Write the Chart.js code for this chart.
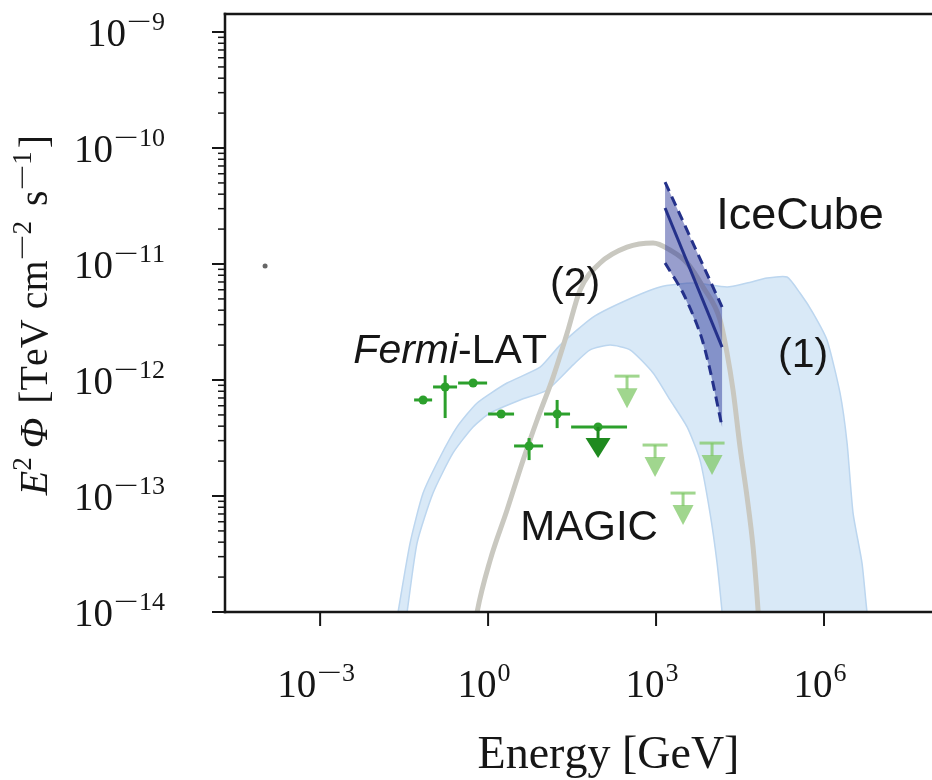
<!DOCTYPE html>
<html>
<head>
<meta charset="utf-8">
<title>E2 Phi vs Energy</title>
<script src="https://cdn.jsdelivr.net/npm/chart.js@4.4.1/dist/chart.umd.min.js"></script>
<style>
  html, body { margin: 0; padding: 0; background: #fff; overflow: hidden; }
  canvas { display: block; }
</style>
</head>
<body>
<canvas id="sed" width="1010" height="780"></canvas>
<script>
// model (1): shaded band, upper and lower edge (GeV, TeV cm^-2 s^-1)
const band1UpperE = [0.0228, 0.0247, 0.0405, 0.069, 0.139, 0.279, 0.637, 2.18, 8.49, 19.3, 75, 303, 1178, 4580, 18530, 42170, 95900, 218000, 372000, 637000, 1.13e6, 1.93e6, 2.58e6, 3.3e6, 4.77e6, 5.86e6, 6.62e6];
const band1UpperF = [7.7e-15, 1.0e-14, 3.94e-14, 1.06e-13, 2.17e-13, 3.94e-13, 6.34e-13, 9.42e-13, 1.29e-12, 2.0e-12, 3.49e-12, 4.9e-12, 6.34e-12, 6.86e-12, 6.34e-12, 6.86e-12, 7.57e-12, 7.73e-12, 5.62e-12, 3.78e-12, 2.21e-12, 7.73e-13, 2.86e-13, 7.13e-14, 2.64e-14, 1.0e-14, 7.7e-15];
const band1LowerE = [0.033, 0.0358, 0.054, 0.104, 0.237, 0.54, 1.09, 3.73, 11.3, 33, 66.3, 151, 343, 884, 1780, 3580, 6100, 9200, 12300, 15100, 15700];
const band1LowerF = [7.7e-15, 1.0e-14, 3.94e-14, 1.06e-13, 2.35e-13, 3.94e-13, 5.2e-13, 6.73e-13, 8.2e-13, 1.35e-12, 1.82e-12, 2.0e-12, 1.82e-12, 1.15e-12, 6.73e-13, 3.94e-13, 2.04e-13, 7.13e-14, 2.64e-14, 1.0e-14, 7.7e-15];

// model (2): grey curve
const model2E = [0.586, 0.637, 1.09, 2.18, 4.22, 7.5, 14.5, 25.8, 44, 100, 303, 884, 1780, 3580, 6900, 13900, 18500, 23700, 31600, 42200, 54000, 66300, 69000];
const model2F = [7.7e-15, 1.0e-14, 2.8e-14, 7.57e-14, 2.04e-13, 4.52e-13, 1.06e-12, 2.54e-12, 5.97e-12, 1.02e-11, 1.40e-11, 1.52e-11, 1.32e-11, 1.02e-11, 6.34e-12, 3.29e-12, 1.71e-12, 8.2e-13, 2.64e-13, 9.8e-14, 3.63e-14, 1.04e-14, 7.7e-15];

// IceCube butterfly
const iceE = [1448, 15100];
const iceBestF = [3.04e-11, 1.92e-12];
const iceHighF = [5.09e-11, 4.26e-12];
const iceLowE = [1448, 3035, 6100, 9200, 15100];
const iceLowF = [1.02e-11, 5.62e-12, 2.54e-12, 1.22e-12, 3.94e-13];

// Fermi-LAT flux points
const fermiE = [0.069, 0.171, 0.54, 1.71, 5.4, 17.1];
const fermiF = [6.73e-13, 8.71e-13, 9.42e-13, 5.09e-13, 2.70e-13, 5.09e-13];
const fermiELo = [0.0477, 0.104, 0.291, 1.0, 2.91, 10.0];
const fermiEHi = [0.1, 0.279, 0.96, 2.91, 9.6, 29.1];
const fermiFLo = [null, 4.70e-13, null, null, 2.04e-13, 3.85e-13];
const fermiFHi = [null, 1.10e-12, null, null, 3.16e-13, 6.73e-13];

// Fermi-LAT upper limit
const fermiUlE = [92];
const fermiUlF = [3.94e-13];
const fermiUlELo = [30.4];
const fermiUlEHi = [303];

// MAGIC upper limits
const magicE = [303, 960, 3035, 10000];
const magicF = [1.08e-12, 2.75e-13, 1.06e-13, 2.86e-13];

// small stray mark on the left
const strayE = [1.04e-4];
const strayF = [9.6e-12];

// axis decades
const xTickExp = [-3, 0, 3, 6];
const yTickExp = [-14, -13, -12, -11, -10, -9];

const SERIF = '"Liberation Serif", "Times New Roman", serif';
const SANS = '"Liberation Sans", Arial, sans-serif';
const GREEN = '#2ca02c';
const GREEN_DARK = '#1f8a1f';
const MAGIC_GREEN = 'rgba(128, 200, 104, 0.75)';
const NAVY = '#24318a';
const INK = '#161616';
const MINUS_STRETCH = 1.7;

const textLabels = [
  {parts: [{t: 'IceCube'}], e: 3.73e5, f: 2.75e-11, size: 45},
  {parts: [{t: '(1)'}], e: 4.22e5, f: 1.74e-12, size: 41},
  {parts: [{t: '(2)'}], e: 35.8, f: 7.13e-12, size: 41},
  {parts: [{t: 'Fermi', it: true}, {t: '-LAT'}], e: 0.21, f: 1.89e-12, size: 41},
  {parts: [{t: 'MAGIC'}], e: 63.6, f: 5.62e-14, size: 42}
];

const pts = (xs, ys) => xs.map((v, i) => ({x: v, y: ys[i]}));

function setFont(ctx, p, size, family) {
  const s = p.sup ? Math.round(size * 0.67) : size;
  ctx.font = (p.it ? 'italic ' : '') + s + 'px ' + family;
}

function richWidth(ctx, parts, size, family) {
  let w = 0;
  for (const p of parts) {
    setFont(ctx, p, size, family);
    for (const ch of p.t) w += ctx.measureText(ch).width * (ch === '−' ? MINUS_STRETCH : 1);
    w += p.gap || 0;
  }
  return w;
}

function drawRich(ctx, parts, x, y, size, family) {
  let cx = x;
  ctx.textAlign = 'left';
  ctx.textBaseline = 'alphabetic';
  for (const p of parts) {
    setFont(ctx, p, size, family);
    const dy = p.sup ? -size * 0.4 : 0;
    for (const ch of p.t) {
      const w = ctx.measureText(ch).width;
      if (ch === '−') {
        ctx.save();
        ctx.translate(cx, y + dy);
        ctx.scale(MINUS_STRETCH, 1);
        ctx.fillText(ch, 0, 0);
        ctx.restore();
        cx += w * MINUS_STRETCH;
      } else {
        ctx.fillText(ch, cx, y + dy);
        cx += w;
      }
    }
    cx += p.gap || 0;
  }
}

function powParts(exp) {
  return [{t: '10', gap: 1}, {t: (exp < 0 ? '−' : '') + Math.abs(exp), sup: true}];
}

function seg(ctx, x1, y1, x2, y2) {
  ctx.beginPath();
  ctx.moveTo(x1, y1);
  ctx.lineTo(x2, y2);
  ctx.stroke();
}

function ulArrow(ctx, px, py, capW, stem, tw, th) {
  if (capW) seg(ctx, px - capW / 2, py, px + capW / 2, py);
  seg(ctx, px, py, px, py + stem + 1);
  ctx.beginPath();
  ctx.moveTo(px - tw / 2, py + stem);
  ctx.lineTo(px + tw / 2, py + stem);
  ctx.lineTo(px, py + stem + th);
  ctx.closePath();
  ctx.fill();
}

const sciAxes = {
  id: 'sciAxes',
  afterDatasetsDraw(chart) {
    const {ctx, chartArea: a, scales: {x, y}} = chart;
    ctx.save();

    // markers: error bars and upper limits
    ctx.save();
    ctx.beginPath();
    ctx.rect(a.left, a.top, a.right - a.left, a.bottom - a.top);
    ctx.clip();
    ctx.lineWidth = 3;
    ctx.strokeStyle = GREEN;
    fermiE.forEach((e, i) => {
      const px = x.getPixelForValue(e), py = y.getPixelForValue(fermiF[i]);
      seg(ctx, x.getPixelForValue(fermiELo[i]), py, x.getPixelForValue(fermiEHi[i]), py);
      if (fermiFLo[i] !== null) seg(ctx, px, y.getPixelForValue(fermiFLo[i]), px, y.getPixelForValue(fermiFHi[i]));
    });
    fermiUlE.forEach((e, i) => {
      const px = x.getPixelForValue(e), py = y.getPixelForValue(fermiUlF[i]);
      ctx.strokeStyle = GREEN;
      seg(ctx, x.getPixelForValue(fermiUlELo[i]), py, x.getPixelForValue(fermiUlEHi[i]), py);
      ctx.strokeStyle = GREEN_DARK;
      ctx.fillStyle = GREEN_DARK;
      ulArrow(ctx, px, py, 0, 11, 25, 20);
    });
    ctx.strokeStyle = MAGIC_GREEN;
    ctx.fillStyle = MAGIC_GREEN;
    magicE.forEach((e, i) => {
      ulArrow(ctx, x.getPixelForValue(e), y.getPixelForValue(magicF[i]), 25, 12, 21, 20);
    });
    ctx.restore();

    // in-plot labels
    ctx.fillStyle = INK;
    textLabels.forEach(l => {
      const w = richWidth(ctx, l.parts, l.size, SANS);
      drawRich(ctx, l.parts, x.getPixelForValue(l.e) - w / 2, y.getPixelForValue(l.f) + l.size * 0.36, l.size, SANS);
    });

    // spines
    ctx.strokeStyle = INK;
    ctx.lineWidth = 2.5;
    ctx.lineCap = 'square';
    seg(ctx, a.left, a.top, a.right, a.top);
    seg(ctx, a.left, a.top, a.left, a.bottom);
    seg(ctx, a.left, a.bottom, a.right, a.bottom);
    seg(ctx, a.right, a.top, a.right, a.bottom);
    ctx.lineCap = 'butt';

    // y ticks
    const yMin = y.min, yMax = y.max;
    ctx.lineWidth = 2;
    yTickExp.forEach(p => {
      const py = y.getPixelForValue(Math.pow(10, p));
      seg(ctx, a.left - 13, py, a.left, py);
      ctx.lineWidth = 1.5;
      for (let k = 2; k <= 9; k++) {
        const v = k * Math.pow(10, p);
        if (v > yMin && v < yMax) {
          const pm = y.getPixelForValue(v);
          seg(ctx, a.left - 7, pm, a.left, pm);
        }
      }
      ctx.lineWidth = 2;
    });
    // x ticks
    xTickExp.forEach(p => {
      const px = x.getPixelForValue(Math.pow(10, p));
      seg(ctx, px, a.bottom, px, a.bottom + 14);
    });

    // tick labels
    ctx.fillStyle = INK;
    const TS = 39;
    yTickExp.forEach(p => {
      const parts = powParts(p);
      const w = richWidth(ctx, parts, TS, SERIF);
      drawRich(ctx, parts, a.left - 60 - w, y.getPixelForValue(Math.pow(10, p)) + 14, TS, SERIF);
    });
    xTickExp.forEach(p => {
      const parts = powParts(p);
      const w = richWidth(ctx, parts, TS, SERIF);
      drawRich(ctx, parts, x.getPixelForValue(Math.pow(10, p)) - w / 2 - 4, a.bottom + 85, TS, SERIF);
    });

    // axis titles
    const xt = [{t: 'Energy [GeV]'}];
    const xw = richWidth(ctx, xt, 46, SERIF);
    drawRich(ctx, xt, (a.left + a.right) / 2 - xw / 2, 768, 46, SERIF);

    const yt = [{t: 'E', it: true}, {t: '2', sup: true, gap: 9}, {t: 'Φ', it: true, gap: 4},
      {t: ' [TeV cm'}, {t: '−2', sup: true, gap: 5}, {t: ' s'}, {t: '−1', sup: true, gap: 3}, {t: ']'}];
    const yw = richWidth(ctx, yt, 40, SERIF);
    ctx.translate(47, (a.top + a.bottom) / 2 + 2);
    ctx.rotate(-Math.PI / 2);
    drawRich(ctx, yt, -yw / 2, 0, 40, SERIF);

    ctx.restore();
  }
};

// Chart.js paints lower "order" on top, so the band gets the highest value
new Chart(document.getElementById('sed'), {
  type: 'line',
  data: {
    datasets: [
      {
        label: '(1)',
        order: 10,
        data: pts(band1UpperE, band1UpperF).concat(pts(band1LowerE, band1LowerF).reverse()),
        fill: 'shape',
        backgroundColor: '#d9e9f7',
        borderColor: '#bcd6ef',
        borderWidth: 1.5,
        pointRadius: 0,
        tension: 0.2
      },
      {
        label: '(2)',
        order: 9,
        data: pts(model2E, model2F),
        borderColor: '#c9c8c0',
        borderWidth: 5,
        pointRadius: 0,
        cubicInterpolationMode: 'monotone',
        fill: false
      },
      {
        label: 'IceCube band',
        order: 8,
        data: pts(iceE, iceHighF).concat(pts(iceLowE, iceLowF).reverse()),
        fill: 'shape',
        backgroundColor: 'rgba(40, 52, 150, 0.48)',
        borderColor: 'rgba(0, 0, 0, 0)',
        borderWidth: 0,
        pointRadius: 0
      },
      {
        label: 'IceCube upper',
        order: 7,
        data: pts(iceE, iceHighF),
        borderColor: NAVY,
        borderWidth: 3,
        borderDash: [10, 6],
        pointRadius: 0,
        fill: false
      },
      {
        label: 'IceCube',
        order: 6,
        data: pts(iceE, iceBestF),
        borderColor: NAVY,
        borderWidth: 3,
        pointRadius: 0,
        fill: false
      },
      {
        label: 'IceCube lower',
        order: 5,
        data: pts(iceLowE, iceLowF),
        borderColor: NAVY,
        borderWidth: 3,
        borderDash: [10, 6],
        pointRadius: 0,
        tension: 0.3,
        fill: false
      },
      {
        label: 'Fermi-LAT',
        order: 4,
        data: pts(fermiE, fermiF),
        showLine: false,
        pointRadius: 4.5,
        pointBackgroundColor: GREEN,
        pointBorderWidth: 0
      },
      {
        label: 'Fermi-LAT UL',
        order: 3,
        data: pts(fermiUlE, fermiUlF),
        showLine: false,
        pointRadius: 4.5,
        pointBackgroundColor: GREEN,
        pointBorderWidth: 0
      },
      {
        label: 'MAGIC UL',
        order: 2,
        data: pts(magicE, magicF),
        showLine: false,
        pointRadius: 0
      },
      {
        label: 'stray',
        order: 1,
        data: pts(strayE, strayF),
        showLine: false,
        pointRadius: 2.5,
        pointBackgroundColor: '#666',
        pointBorderWidth: 0
      }
    ]
  },
  options: {
    responsive: false,
    animation: false,
    devicePixelRatio: 1,
    events: [],
    layout: {padding: {left: 0, top: 14, right: 18, bottom: 0}},
    plugins: {legend: {display: false}, tooltip: {enabled: false}},
    scales: {
      x: {
        type: 'logarithmic',
        min: 2e-5,
        max: 1e9,
        grid: {display: false},
        border: {display: false},
        ticks: {display: false},
        afterFit(s) { s.height = 168; }
      },
      y: {
        type: 'logarithmic',
        min: 1e-14,
        max: 1.43e-9,
        grid: {display: false},
        border: {display: false},
        ticks: {display: false},
        afterFit(s) { s.width = 225; }
      }
    }
  },
  plugins: [sciAxes]
});
</script>
</body>
</html>
